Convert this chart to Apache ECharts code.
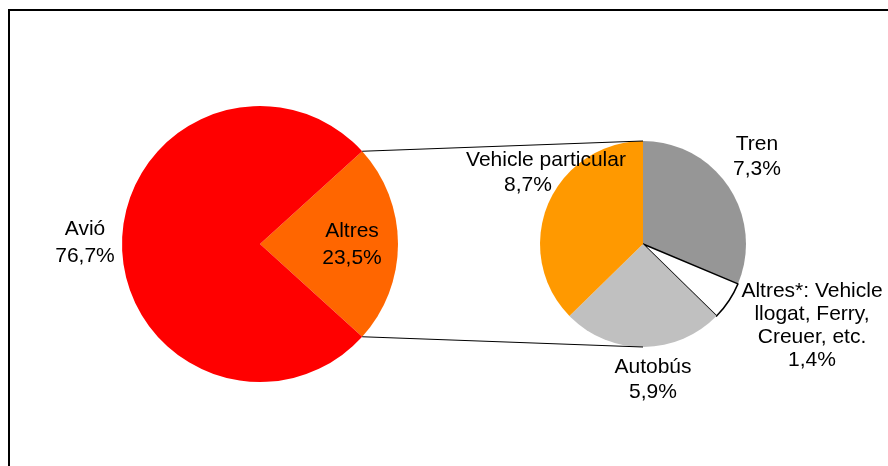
<!DOCTYPE html>
<html>
<head>
<meta charset="utf-8">
<script src="https://cdn.jsdelivr.net/npm/echarts@6/dist/echarts.min.js"></script>
<style>
html,body{margin:0;padding:0;background:#fff;}
#chart{width:888px;height:466px;}
</style>
</head>
<body>
<div id="chart"></div>
<script>
// Main pie
const mainCategories = ['Altres', 'Avió'];
const mainValues = [23.5, 76.7];
const mainLabels = ['23,5%', '76,7%'];
// Secondary pie (breakdown of "Altres")
const subCategories = ['Tren', 'Altres*: Vehicle\nllogat, Ferry,\nCreuer, etc.', 'Autobús', 'Vehicle particular'];
const subValues = [7.3, 1.4, 5.9, 8.7];
const subLabels = ['7,3%', '1,4%', '5,9%', '8,7%'];

const mainColors = ['#FF6600', '#FF0000'];
const subColors = ['#969696', '#FFFFFF', '#C0C0C0', '#FF9900'];

// layout
const C1 = [260, 244], R1 = 138;
const C2 = [643, 244], R2 = 103;
const mainLabelPos = [[352, 245], [85, 243]];
const subLabelPos = [[757, 158], [812, 326], [653, 381], [546, 174]];
const subLineShift = [0, 0, 0, 36];

const total1 = mainValues.reduce((a, b) => a + b, 0);
const half = 360 * mainValues[0] / total1 / 2;
const rad = half * Math.PI / 180;
const pTop = [C1[0] + R1 * Math.cos(rad), C1[1] - R1 * Math.sin(rad)];
const pBot = [C1[0] + R1 * Math.cos(rad), C1[1] + R1 * Math.sin(rad)];

const font = 'Liberation Sans, Arial, sans-serif';
const chart = echarts.init(document.getElementById('chart'), null, {renderer: 'canvas'});
chart.setOption({
  animation: false,
  backgroundColor: '#fff',
  graphic: [
    {type: 'rect', shape: {x: 9, y: 10, width: 1000, height: 1000}, style: {fill: 'none', stroke: '#000', lineWidth: 2}, z: 0},
    {type: 'line', shape: {x1: pTop[0], y1: pTop[1], x2: C2[0], y2: C2[1] - R2}, style: {stroke: '#000', lineWidth: 1.2}, z: 10},
    {type: 'line', shape: {x1: pBot[0], y1: pBot[1], x2: C2[0], y2: C2[1] + R2}, style: {stroke: '#000', lineWidth: 1.2}, z: 10}
  ],
  series: [
    {
      type: 'pie',
      center: C1,
      radius: R1,
      startAngle: half,
      clockwise: true,
      silent: true,
      avoidLabelOverlap: false,
      data: mainCategories.map((n, i) => ({name: n, value: mainValues[i], itemStyle: {color: mainColors[i]}})),
      label: {
        show: true, position: 'inside', color: '#000', fontFamily: font, fontSize: 21, lineHeight: 27,
        formatter: p => p.name + '\n' + mainLabels[p.dataIndex]
      },
      labelLine: {show: false},
      labelLayout: p => ({x: mainLabelPos[p.dataIndex][0], y: mainLabelPos[p.dataIndex][1], align: 'center', verticalAlign: 'middle'})
    },
    {
      type: 'pie',
      center: C2,
      radius: R2,
      startAngle: 90,
      clockwise: true,
      silent: true,
      avoidLabelOverlap: false,
      data: subCategories.map((n, i) => ({
        name: n, value: subValues[i],
        itemStyle: i === 1 ? {color: subColors[i], borderColor: '#000', borderWidth: 1.5} : {color: subColors[i]}
      })),
      label: {
        show: true, position: 'inside', color: '#000', fontFamily: font, fontSize: 21,
        formatter: p => '{a|' + p.name.split('\n').join('}\n{a|') + '}\n{b' + p.dataIndex + '|' + subLabels[p.dataIndex] + '}',
        rich: {
          a: {fontFamily: font, fontSize: 21, lineHeight: 23, color: '#000'},
          b0: {fontFamily: font, fontSize: 21, lineHeight: 27, color: '#000'},
          b1: {fontFamily: font, fontSize: 21, lineHeight: 23, color: '#000'},
          b2: {fontFamily: font, fontSize: 21, lineHeight: 27, color: '#000'},
          b3: {fontFamily: font, fontSize: 21, lineHeight: 27, color: '#000', padding: [0, subLineShift[3], 0, 0]}
        }
      },
      labelLine: {show: false},
      labelLayout: p => ({x: subLabelPos[p.dataIndex][0], y: subLabelPos[p.dataIndex][1], align: 'center', verticalAlign: 'middle'})
    }
  ]
});
</script>
</body>
</html>
